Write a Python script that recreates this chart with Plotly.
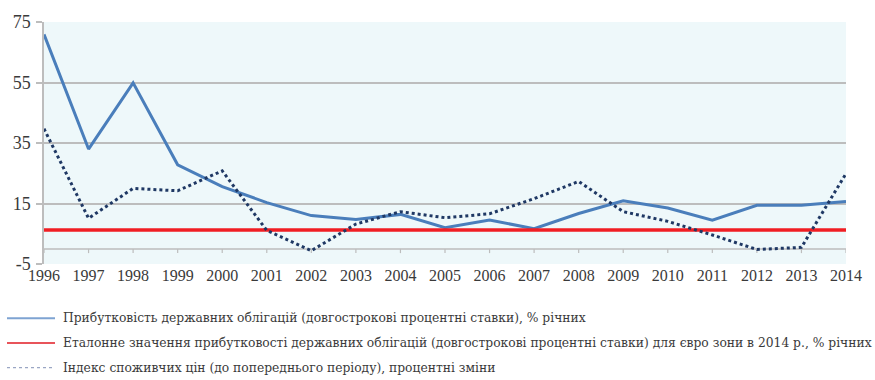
import plotly.graph_objects as go

years = list(range(1996, 2015))
year_labels = [str(y) for y in years]

# Прибутковість державних облігацій, % річних
bond_yield = [70.9, 33.0, 54.9, 27.8, 20.6, 15.3, 11.0, 9.7, 11.4, 7.0,
              9.5, 6.7, 11.7, 15.9, 13.5, 9.5, 14.4, 14.4, 15.7]
# Еталонне значення для євро зони у 2014 р.
euro_benchmark = [6.2] * len(years)
# Індекс споживчих цін, процентні зміни
cpi_change = [39.7, 10.1, 20.0, 19.2, 25.8, 6.1, -0.6, 8.2, 12.3, 10.3,
              11.6, 16.6, 22.3, 12.3, 9.1, 4.6, -0.2, 0.5, 24.9]

y_ticks = [-5, 15, 35, 55, 75]
y_tick_labels = ["-5", "15", "35", "55", "75"]

legend_names = [
    "Прибутковість державних облігацій (довгострокові процентні ставки), % річних",
    "Еталонне значення прибутковості державних облігацій (довгострокові процентні ставки) для євро зони в 2014 р., % річних",
    "Індекс споживчих цін (до попереднього періоду), процентні зміни",
]

W, H = 875, 380
ML, MR, MT, MB = 44, 29, 19, 116
PW, PH = W - ML - MR, H - MT - MB

BLUE = "#4A7EBB"
RED = "#F01E23"
NAVY = "#1F3864"
GRID = "#BDBDBD"
TEXT = "#3A3A3A"
SERIF = "Liberation Serif"
LEGEND_FONT = "DejaVu Serif"


def px_x(px):
    return (px - ML) / PW


def px_y(py):
    return (H - MB - py) / PH


fig = go.Figure()

fig.add_trace(go.Scatter(x=years, y=bond_yield, mode="lines",
                         line=dict(color=BLUE, width=3), name=legend_names[0]))
fig.add_trace(go.Scatter(x=years, y=euro_benchmark, mode="lines",
                         line=dict(color=RED, width=3.5), name=legend_names[1]))
fig.add_trace(go.Scatter(x=years, y=cpi_change, mode="lines",
                         line=dict(color=NAVY, width=3, dash="dot"),
                         name=legend_names[2]))

shapes = []
# horizontal category axis crossing at zero, with tick marks below it
shapes.append(dict(type="line", xref="x", yref="y", x0=years[0], x1=years[-1],
                   y0=0, y1=0, line=dict(color=GRID, width=1.5), layer="below"))
for yr in years:
    shapes.append(dict(type="line", xref="x", yref="y", x0=yr, x1=yr,
                       y0=0, y1=-1.4, line=dict(color=GRID, width=1.2),
                       layer="below"))

# legend drawn beneath the plot
legend_styles = [
    dict(color="#7EA3D2", width=2),
    dict(color="#E8545A", width=2.2),
    dict(color="#9AA6C4", width=1.3, dash="dot"),
]
legend_rows = [319, 344, 369]
annotations = []
for name, style, row in zip(legend_names, legend_styles, legend_rows):
    shapes.append(dict(type="line", xref="paper", yref="paper",
                       x0=px_x(7), x1=px_x(55), y0=px_y(row), y1=px_y(row),
                       line=style))
    annotations.append(dict(xref="paper", yref="paper", x=px_x(61),
                            y=px_y(row), text=name, showarrow=False,
                            xanchor="left", yanchor="middle",
                            font=dict(family=LEGEND_FONT, size=12.3,
                                      color=TEXT)))

fig.update_layout(
    width=W, height=H,
    margin=dict(l=ML, r=MR, t=MT, b=MB),
    paper_bgcolor="white",
    plot_bgcolor="#EEF8FA",
    showlegend=False,
    shapes=shapes,
    annotations=annotations,
    xaxis=dict(
        range=[years[0], years[-1]],
        tickmode="array", tickvals=years, ticktext=year_labels,
        showgrid=False, zeroline=False, showline=False,
        ticks="", tickfont=dict(family=SERIF, size=16, color=TEXT),
        fixedrange=True,
    ),
    yaxis=dict(
        range=[-5, 75],
        tickmode="array", tickvals=y_ticks, ticktext=y_tick_labels,
        showgrid=True, gridcolor=GRID, gridwidth=1.5,
        zeroline=False,
        showline=True, linecolor=GRID, linewidth=1.5,
        ticks="outside", ticklen=6, tickcolor=GRID, tickwidth=1.5,
        ticklabelstandoff=2,
        tickfont=dict(family=SERIF, size=18, color=TEXT),
        fixedrange=True,
    ),
)

fig.write_html("out.html")
